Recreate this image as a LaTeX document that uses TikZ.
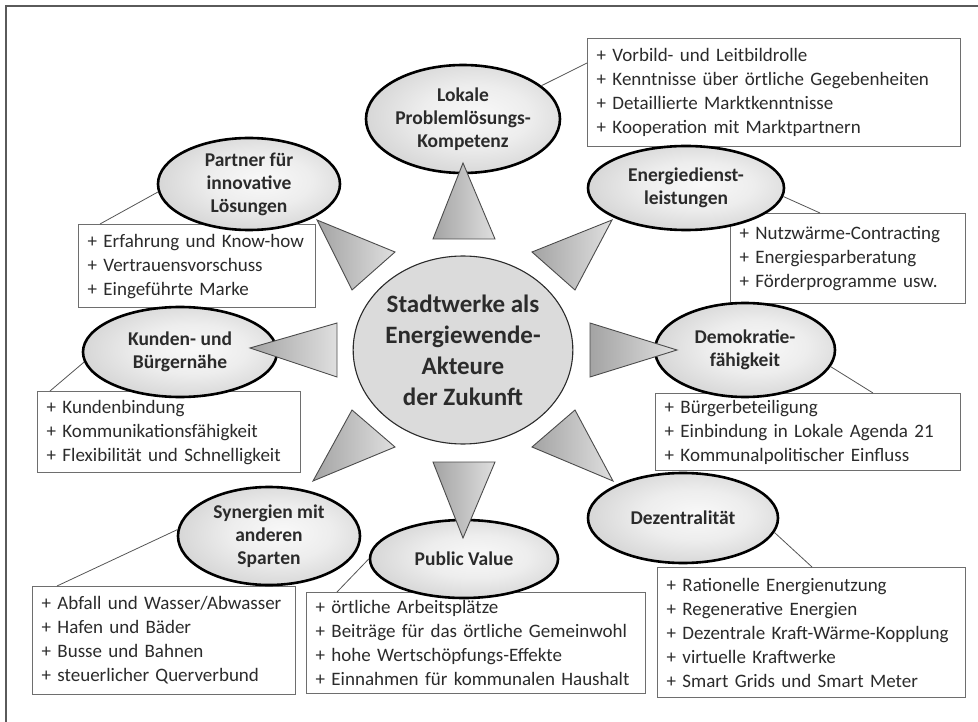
\documentclass[tikz,border=0pt]{standalone}
\usepackage{fontspec}
\setmainfont{Carlito}
\usetikzlibrary{shapes.geometric}
\definecolor{ink}{HTML}{2B2B2B}
\definecolor{framegray}{HTML}{5A5A5A}
\definecolor{boxgray}{HTML}{6E6E6E}
% soft radial fill for the competence fields: light core, grey rim
\pgfdeclareradialshading{fieldshade}{\pgfpoint{4bp}{2bp}}{%
  color(0bp)=(gray!5); color(14bp)=(gray!14); color(34bp)=(gray!40);
  color(50bp)=(gray!62); color(80bp)=(gray!62)}

\begin{document}
\begin{tikzpicture}[x=1pt,y=-1pt,
  topic/.style={ellipse, draw=black, line width=2.6pt, inner sep=0pt,
    shading=fieldshade, text=ink,
    align=center, font=\bfseries\fontsize{19.5}{23}\selectfont},
  hub/.style={ellipse, draw=ink, line width=1.1pt, fill=gray!28, inner sep=0pt,
    text=ink, align=center, font=\bfseries\fontsize{25}{31}\selectfont},
  listbox/.style={rectangle, draw=boxgray, line width=1.3pt, fill=white,
    anchor=north west, inner xsep=9pt, inner ysep=0pt, align=left,
    text=ink, text width=#1, font=\fontsize{19}{24}\selectfont},
  link/.style={draw=ink!80, line width=0.8pt},
  wedge/.style={draw=ink!85, line width=0.9pt, left color=gray!72, right color=gray!25},
  frameline/.style={draw=framegray, line width=1.6pt}
]
\useasboundingbox (0,0) rectangle (978,722);

% outer frame
\draw[frameline] (6,722) -- (6,6) -- (978,6);

% lists of strengths
\node[listbox=355pt, minimum height=108pt] (bA) at (587,38)
  {+ Vorbild- und Leitbildrolle\\+ Kenntnisse über örtliche Gegebenheiten\\+ Detaillierte Marktkenntnisse\\+ Kooperation mit Marktpartnern};
\node[listbox=219pt, minimum height=83pt] (bB) at (78,224)
  {+ Erfahrung und Know-how\\+ Vertrauensvorschuss\\+ Eingeführte Marke};
\node[listbox=217pt, minimum height=90pt] (bC) at (730,213)
  {+ Nutzwärme-Contracting\\+ Energiesparberatung\\+ Förderprogramme usw.};
\node[listbox=245pt, minimum height=81pt] (bD) at (37,391)
  {+ Kundenbindung\\+ Kommunikationsfähigkeit\\+ Flexibilität und Schnelligkeit};
\node[listbox=287pt, minimum height=77pt] (bE) at (655,393)
  {+ Bürgerbeteiligung\\+ Einbindung in Lokale Agenda 21\\+ Kommunalpolitischer Einfluss};
\node[listbox=245pt, minimum height=108pt] (bF) at (32,586)
  {+ Abfall und Wasser/Abwasser\\+ Hafen und Bäder\\+ Busse und Bahnen\\+ steuerlicher Querverbund};
\node[listbox=321pt, minimum height=101pt] (bG) at (306,592)
  {+ örtliche Arbeitsplätze\\+ Beiträge für das örtliche Gemeinwohl\\+ hohe Wertschöpfungs-Effekte\\+ Einnahmen für kommunalen Haushalt};
\node[listbox=290pt, minimum height=130pt] (bH) at (657,567)
  {+ Rationelle Energienutzung\\+ Regenerative Energien\\+ Dezentrale Kraft-Wärme-Kopplung\\+ virtuelle Kraftwerke\\+ Smart Grids und Smart Meter};

% competence fields
\node[topic, minimum width=194pt, minimum height=108pt] (lok) at (463,119)
  {Lokale\\Problemlösungs-\\Kompetenz};
\node[topic, minimum width=182pt, minimum height=92pt] (part) at (249,184)
  {Partner für\\innovative\\Lösungen};
\node[topic, minimum width=196pt, minimum height=84pt] (edl) at (686,188)
  {Energiedienst-\\leistungen};
\node[topic, minimum width=194pt, minimum height=90pt] (kun) at (180,352)
  {Kunden- und\\Bürgernähe};
\node[topic, minimum width=180pt, minimum height=94pt] (demo) at (745,350)
  {Demokratie-\\fähigkeit};
\node[topic, minimum width=182pt, minimum height=98pt] (syn) at (269,536)
  {Synergien mit\\anderen\\Sparten};
\node[topic, minimum width=188pt, minimum height=78pt] (pub) at (464,559)
  {Public Value};
\node[topic, minimum width=190pt, minimum height=90pt] (dez) at (683,518)
  {Dezentralität};

% central actor
\node[hub, minimum width=214pt, minimum height=188pt] (hub) at (463,350)
  {Stadtwerke als\\Energiewende-\\Akteure\\der Zukunft};

% leader lines from fields to their lists
\draw[link] (lok.23) -- ([yshift=-25pt]bA.north west);
\draw[link] (part.185) -- ([xshift=22pt]bB.north west);
\draw[link] (edl.-5) -- ([xshift=90pt]bC.north west);
\draw[link] (kun.186) -- ([xshift=13pt]bD.north west);
\draw[link] (demo.-11) -- ([xshift=218pt]bE.north west);
\draw[link] (syn.176) -- ([xshift=25pt]bF.north west);
\draw[link] (pub.180) -- ([xshift=31pt]bG.north west);
\draw[link] (dez.-9) -- ([xshift=155pt]bH.north west);

% pointers between the hub and the fields
\draw[wedge] (463,163) -- (433,239) -- (495,239) -- cycle;
\draw[wedge] (433,462) -- (495,462) -- (463,538) -- cycle;
\draw[wedge] (337,323) -- (337,377) -- (250,348) -- cycle;
\draw[wedge] (590,323) -- (590,377) -- (677,350) -- cycle;
\draw[wedge] (317,220) -- (395,252) -- (352,290) -- cycle;
\draw[wedge] (612,220) -- (532,252) -- (575,290) -- cycle;
\draw[wedge] (352,410) -- (395,447) -- (313,481) -- cycle;
\draw[wedge] (575,410) -- (532,447) -- (613,481) -- cycle;
\end{tikzpicture}
\end{document}
